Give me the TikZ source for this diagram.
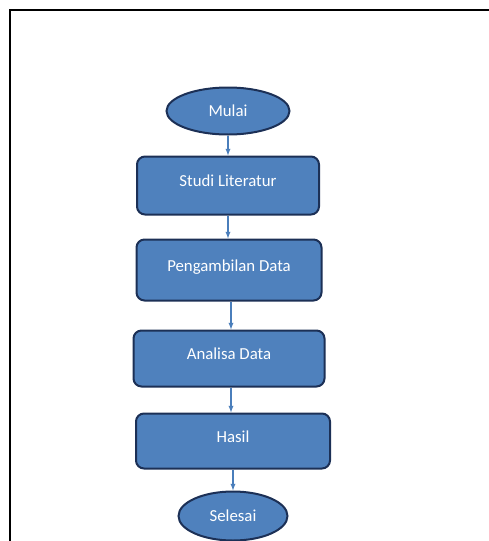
\documentclass[tikz,border=0pt]{standalone}
\usepackage{fontspec}
\setmainfont{Carlito}
\usetikzlibrary{arrows,shapes.geometric}
\usetikzlibrary{positioning}
\definecolor{boxblue}{RGB}{79,129,189}
\definecolor{boxline}{RGB}{28,48,86}
\definecolor{arrowblue}{RGB}{74,126,187}
\tikzset{
    proses/.style = {draw=boxline, fill=boxblue, line width=2pt, rounded corners=8pt,
                 text height=12pt, text depth=10pt,
                 text=white, font=\fontsize{16.8}{20}\selectfont, align=center},
    terminal/.style = {ellipse, draw=boxline, fill=boxblue, line width=2pt, inner sep=0pt,
                 text=white, font=\fontsize{16.8}{20}\selectfont},
    panah/.style = {->, draw=arrowblue, line width=1.3pt},
}

\begin{document}
\begin{tikzpicture}[x=1pt,y=-1pt,>=latex]
\useasboundingbox (0,0) rectangle (488,541);
\draw[line width=2pt] (492,10) -- (10,10) -- (10,545);

\node (mulai)   [terminal, minimum width=123pt, minimum height=47pt] at (228,111) {Mulai};
\node (studi)   [proses, minimum width=182pt, minimum height=58pt, below=20pt of mulai] {Studi Literatur};
\node (ambil)   [proses, minimum width=185pt, minimum height=61pt, xshift=1pt, below=23pt of studi] {Pengambilan Data};
\node (analisa) [proses, minimum width=191pt, minimum height=56pt, below=28pt of ambil] {Analisa Data};
\node (hasil)   [proses, minimum width=194pt, minimum height=55pt, xshift=4pt, below=25pt of analisa] {Hasil};
\node (selesai) [terminal, minimum width=109pt, minimum height=49pt, below=21pt of hasil] {Selesai};

\draw[panah] (mulai) -- (mulai |- studi.north);
\draw[panah] (studi) -- (studi |- ambil.north);
\draw[panah] ([xshift=2pt]ambil.south) -- ([xshift=2pt]ambil.south |- analisa.north);
\draw[panah] ([xshift=2pt]analisa.south) -- ([xshift=2pt]analisa.south |- hasil.north);
\draw[panah] (hasil) -- (hasil |- selesai.north);
\end{tikzpicture}
\end{document}
